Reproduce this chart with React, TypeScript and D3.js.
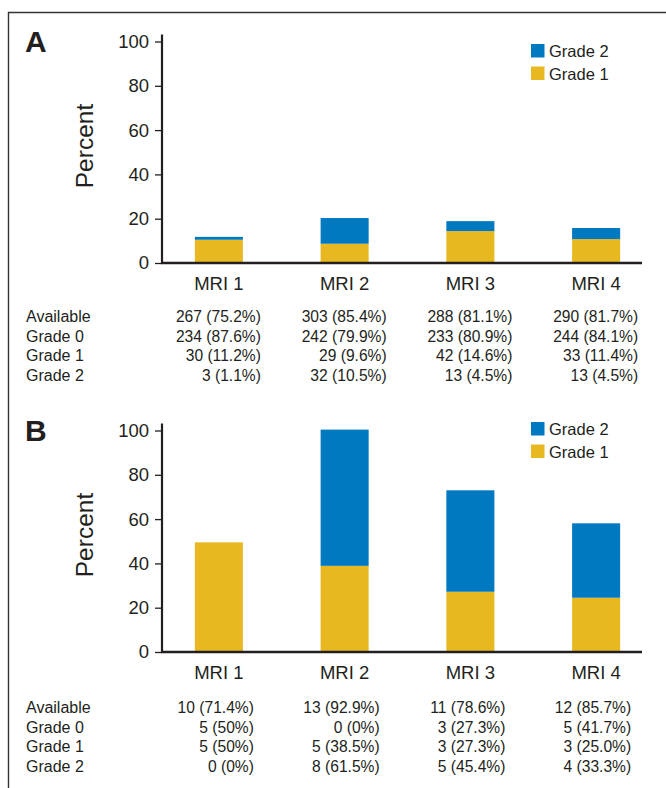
import React, { useEffect, useRef } from 'react'
import * as d3 from 'd3'

// bar heights (percent)
const visits = ['MRI 1', 'MRI 2', 'MRI 3', 'MRI 4']
const gradeOneA = [10.5, 8.7, 14.4, 10.8]
const gradeTwoA = [1.3, 11.6, 4.5, 5.0]
const gradeOneB = [49.5, 38.9, 27.2, 24.5]
const gradeTwoB = [0, 61.5, 45.8, 33.6]
const yTicks = [0, 20, 40, 60, 80, 100]

// counts table under each panel
const rowLabels = ['Available', 'Grade 0', 'Grade 1', 'Grade 2']
const tableA = [
  ['267 (75.2%)', '303 (85.4%)', '288 (81.1%)', '290 (81.7%)'],
  ['234 (87.6%)', '242 (79.9%)', '233 (80.9%)', '244 (84.1%)'],
  ['30 (11.2%)', '29 (9.6%)', '42 (14.6%)', '33 (11.4%)'],
  ['3 (1.1%)', '32 (10.5%)', '13 (4.5%)', '13 (4.5%)']
]
const tableB = [
  ['10 (71.4%)', '13 (92.9%)', '11 (78.6%)', '12 (85.7%)'],
  ['5 (50%)', '0 (0%)', '3 (27.3%)', '5 (41.7%)'],
  ['5 (50%)', '5 (38.5%)', '3 (27.3%)', '3 (25.0%)'],
  ['0 (0%)', '8 (61.5%)', '5 (45.4%)', '4 (33.3%)']
]

const BLUE = '#0079c1'
const YELLOW = '#e8b821'
const INK = '#231f20'
const SANS = "'Liberation Sans', Arial, sans-serif"

const panels = [
  { letter: 'A', one: gradeOneA, two: gradeTwoA, table: tableA, top: 0, legendTop: 44, tableTop: 0, colShift: 42 },
  { letter: 'B', one: gradeOneB, two: gradeTwoB, table: tableB, top: 389, legendTop: 422, tableTop: 391, colShift: 35 }
]

function drawPanel (svg, p) {
  const g = svg.append('g')
  const y = d3.scaleLinear().domain([0, 100]).range([263 + p.top, 41.5 + p.top])
  const x = d3.scaleBand().domain(visits).range([156, 659]).paddingInner(0.618).paddingOuter(0.309)

  // panel letter
  g.append('text')
    .attr('x', 25).attr('y', 52 + p.top)
    .attr('font-family', SANS).attr('font-weight', 'bold').attr('font-size', 30)
    .attr('fill', INK)
    .text(p.letter)

  // stacked bars
  const stack = visits.map((v, i) => ({ v, one: p.one[i], two: p.two[i] }))
  g.selectAll('rect.one').data(stack).enter().append('rect')
    .attr('class', 'one')
    .attr('x', d => x(d.v)).attr('width', x.bandwidth())
    .attr('y', d => y(d.one)).attr('height', d => y(0) - y(d.one))
    .attr('fill', YELLOW)
  g.selectAll('rect.two').data(stack.filter(d => d.two > 0)).enter().append('rect')
    .attr('class', 'two')
    .attr('x', d => x(d.v)).attr('width', x.bandwidth())
    .attr('y', d => y(d.one + d.two)).attr('height', d => y(d.one) - y(d.one + d.two))
    .attr('fill', BLUE)

  // y axis
  const axis = g.append('g')
    .attr('transform', 'translate(162,0)')
    .call(d3.axisLeft(y).tickValues(yTicks).tickSize(7).tickPadding(6))
  axis.select('.domain').remove()
  axis.selectAll('line').attr('stroke', INK).attr('stroke-width', 1.3)
  axis.selectAll('text')
    .attr('font-family', SANS).attr('font-size', 18.5).attr('fill', INK)
  axis.append('line')
    .attr('x1', 0).attr('x2', 0)
    .attr('y1', y(0)).attr('y2', y(100) - 7)
    .attr('stroke', INK).attr('stroke-width', 2.2)

  // x axis line + labels
  g.append('line')
    .attr('x1', 161).attr('x2', 642)
    .attr('y1', y(0)).attr('y2', y(0))
    .attr('stroke', INK).attr('stroke-width', 2.6)
  g.selectAll('text.cat').data(visits).enter().append('text')
    .attr('class', 'cat')
    .attr('x', d => x(d) + x.bandwidth() / 2).attr('y', 290 + p.top)
    .attr('text-anchor', 'middle')
    .attr('font-family', SANS).attr('font-size', 18.5).attr('fill', INK)
    .text(d => d)

  // y label
  g.append('text')
    .attr('transform', 'translate(93,' + (146 + p.top) + ') rotate(-90)')
    .attr('text-anchor', 'middle')
    .attr('font-family', SANS).attr('font-size', 24.5).attr('fill', INK)
    .text('Percent')

  // legend
  const legend = g.append('g').attr('transform', 'translate(531,' + p.legendTop + ')')
  const items = [['Grade 2', BLUE], ['Grade 1', YELLOW]]
  items.forEach((it, i) => {
    legend.append('rect')
      .attr('x', 0).attr('y', i * 22.5)
      .attr('width', 13.5).attr('height', 13.5)
      .attr('fill', it[1])
    legend.append('text')
      .attr('x', 18).attr('y', i * 22.5 + 13)
      .attr('font-family', SANS).attr('font-size', 16.5).attr('fill', INK)
      .text(it[0])
  })

  // table
  const rowY = i => 322 + p.tableTop + i * 19.5
  rowLabels.forEach((lab, r) => {
    g.append('text')
      .attr('x', 26).attr('y', rowY(r))
      .attr('font-family', SANS).attr('font-size', 16).attr('fill', INK)
      .text(lab)
    g.selectAll('text.r' + r).data(p.table[r]).enter().append('text')
      .attr('class', 'r' + r)
      .attr('x', (d, c) => x(visits[c]) + x.bandwidth() / 2 + p.colShift)
      .attr('y', rowY(r))
      .attr('text-anchor', 'end')
      .attr('font-family', SANS).attr('font-size', 15.6).attr('fill', INK)
      .text(d => d)
  })
}

export default function App () {
  const ref = useRef(null)

  useEffect(() => {
    const svg = d3.select(ref.current)
    svg.selectAll('*').remove()

    // outer frame, runs off the right and bottom edges
    svg.append('path')
      .attr('d', 'M8.5,800 L8.5,12.5 L680,12.5')
      .attr('fill', 'none').attr('stroke', '#333').attr('stroke-width', 1.4)

    panels.forEach(p => drawPanel(svg, p))
  }, [])

  return (
    <div style={{ position: 'absolute', left: 0, top: 0 }}>
      <svg ref={ref} width={666} height={788} style={{ display: 'block', background: '#fff' }} />
    </div>
  )
}
